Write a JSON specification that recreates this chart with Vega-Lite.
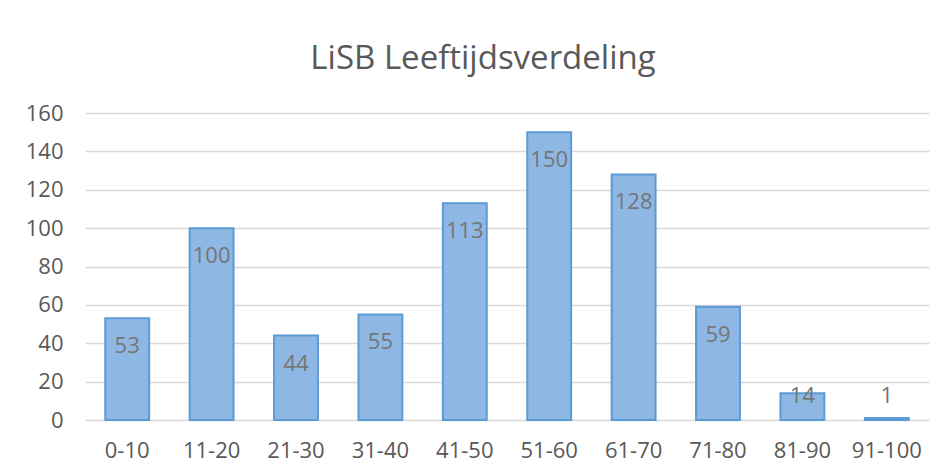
{
  "$schema": "https://vega.github.io/schema/vega-lite/v6.json",
  "autosize": "none",
  "width": 844,
  "height": 307,
  "padding": {"left": 85, "top": 113, "right": 17, "bottom": 53},
  "background": "white",
  "title": {
    "text": "LiSB Leeftijdsverdeling",
    "font": "Open Sans",
    "fontSize": 33,
    "fontWeight": "normal",
    "color": "#595959",
    "anchor": "middle",
    "dx": -24,
    "offset": 26
  },
  "data": {
    "values": [
      {"groep": "0-10", "aantal": 53},
      {"groep": "11-20", "aantal": 100},
      {"groep": "21-30", "aantal": 44},
      {"groep": "31-40", "aantal": 55},
      {"groep": "41-50", "aantal": 113},
      {"groep": "51-60", "aantal": 150},
      {"groep": "61-70", "aantal": 128},
      {"groep": "71-80", "aantal": 59},
      {"groep": "81-90", "aantal": 14},
      {"groep": "91-100", "aantal": 1}
    ]
  },
  "config": {
    "view": {"stroke": null},
    "axis": {
      "labelFont": "Open Sans",
      "labelFontSize": 22,
      "labelColor": "#595959",
      "domain": false,
      "ticks": false,
      "title": null,
      "gridColor": "#d9d9d9",
      "gridWidth": 1.5
    }
  },
  "encoding": {
    "x": {
      "field": "groep",
      "type": "nominal",
      "sort": null,
      "scale": {"paddingInner": 0.48, "paddingOuter": 0.24},
      "axis": {"labelAngle": 0, "labelPadding": 20, "grid": false}
    }
  },
  "resolve": {"axis": {"y": "independent"}},
  "layer": [
    {
      "mark": {"type": "bar", "fill": "#8fb7e3", "stroke": "#5b9bd5", "strokeWidth": 2},
      "encoding": {
        "y": {
          "field": "aantal",
          "type": "quantitative",
          "scale": {"domain": [0, 160]},
          "axis": {"values": [0, 20, 40, 60, 80, 100, 120, 140, 160], "labelOverlap": false, "labelPadding": 22, "grid": true}
        }
      }
    },
    {
      "transform": [{"calculate": "max(datum.aantal - 14.6, 12.7)", "as": "labelpos"}],
      "mark": {"type": "text", "font": "Open Sans", "fontSize": 22, "color": "#757575", "baseline": "middle"},
      "encoding": {
        "y": {"field": "labelpos", "type": "quantitative", "axis": null},
        "text": {"field": "aantal", "type": "quantitative"}
      }
    }
  ]
}
